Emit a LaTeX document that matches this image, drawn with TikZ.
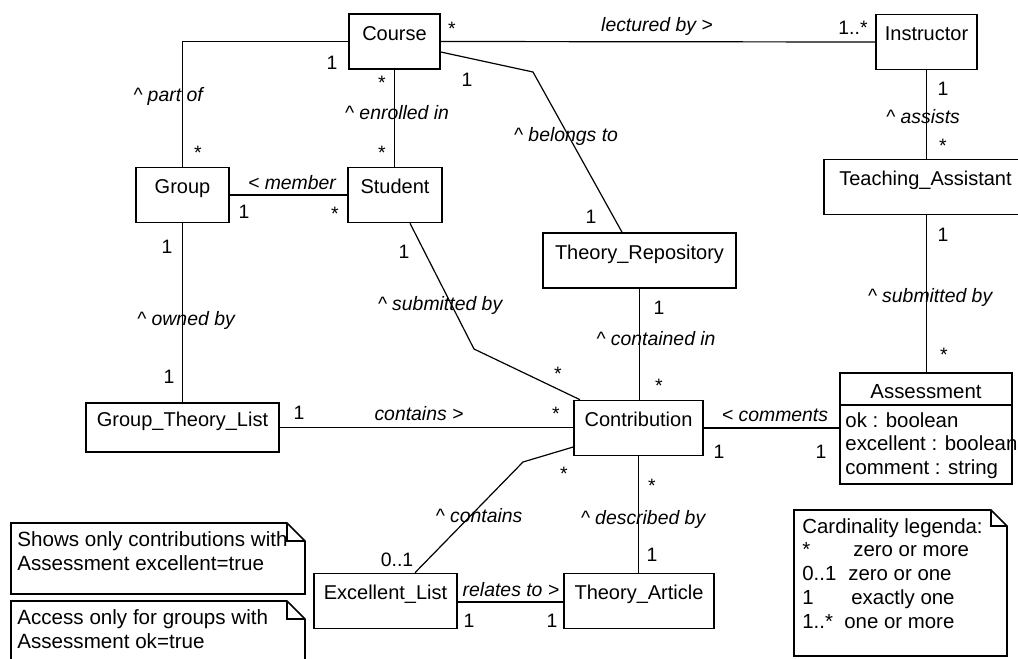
\documentclass[tikz,border=0pt]{standalone}
\usepackage{fontspec}
\setmainfont{Liberation Sans}
\tikzset{
  cls/.style={draw, line width=0.8pt, inner sep=0pt, text height=13pt, text depth=14.5pt, font=\fontsize{10}{12}\selectfont},
  assoc/.style={line width=0.6pt},
  role/.style={font=\fontsize{9.7}{12}\selectfont\itshape, inner sep=0pt},
  mult/.style={font=\fontsize{9.7}{12}\selectfont, inner sep=0pt},
  many/.style={mult, yshift=-2pt},
  notebox/.style={line width=0.8pt},
  notetext/.style={font=\fontsize{10.3}{12}\selectfont, align=left, inner sep=0pt, anchor=base west}
}
\begin{document}
\begin{tikzpicture}[x=0.5pt,y=-0.5pt]
  \clip (0,0) rectangle (1018,659);

  % classes
  \node[cls, minimum width=45.5pt] (course) at (394.5,41.5) {Course};
  \node[cls, minimum width=50.5pt] (instructor) at (926.5,42) {Instructor};
  \node[cls, minimum width=46.5pt] (group) at (182.5,195) {Group};
  \node[cls, minimum width=47pt] (student) at (395,195) {Student};
  \node[cls, minimum width=101.5pt] (ta) at (925.5,187) {Teaching\_Assistant};
  \node[cls, minimum width=96.5pt] (repo) at (639.5,260.5) {Theory\_Repository};
  \node[cls, minimum width=96.5pt, text height=11.5pt, text depth=13pt] (gtl) at (182.5,427.5) {Group\_Theory\_List};
  \node[cls, minimum width=64.5pt] (contrib) at (638.5,428) {Contribution};
  \node[cls, minimum width=71.5pt] (exlist) at (385.5,601) {Excellent\_List};
  \node[cls, minimum width=75pt] (article) at (639,601) {Theory\_Article};

  % Assessment with attributes
  \node[draw, line width=0.8pt, minimum width=86pt, minimum height=55.5pt, inner sep=0pt] (assess) at (926,428.5) {};
  \draw[line width=0.8pt] (assess.west |- 0,405) -- (assess.east |- 0,405);
  \node[font=\fontsize{10.2}{12}\selectfont, inner sep=0pt, anchor=base] (assesstitle) at (926,398) {Assessment};
  \node[font=\fontsize{10.2}{11.75}\selectfont, align=left, inner sep=0pt, anchor=base west] (assessattr) at (845,474) {ok : boolean\\excellent : boolean\\comment : string};

  % associations
  \draw[assoc] (course.west) -| (group.north);
  \draw[assoc] (course.south) -- (course.south |- student.north);
  \draw[assoc] (course.east) -- (instructor.west);
  \draw[assoc] (course.east |- 0,52) -- (533,72) -- (622,0 |- repo.north);
  \draw[assoc] (group.east) -- (student.west);
  \draw[assoc] (group.south) -- (gtl.north);
  \draw[assoc] (410,0 |- student.south) -- (474,349) -- (580,0 |- contrib.north);
  \draw[assoc] (repo.south) -- (repo.south |- contrib.north);
  \draw[assoc] (gtl.east) -- (gtl.east -| contrib.west);
  \draw[assoc] (contrib.east) -- (contrib.east -| assess.west);
  \draw[assoc] (contrib.west |- 0,447) -- (523,462) -- (415,0 |- exlist.north);
  \draw[assoc] (exlist.east |- 0,602) -- (article.west |- 0,602);
  \draw[assoc] (contrib.south) -- (contrib.south |- article.north);
  \draw[assoc] (instructor.south) -- (instructor.south |- ta.north);
  \draw[assoc] (instructor.south |- ta.south) -- (instructor.south |- assess.north);

  % role names
  \node[role] (partof) at (168,96) {\textasciicircum{} part of};
  \node[role] (enrolled) at (397,113) {\textasciicircum{} enrolled in};
  \node[role] (lectured) at (657,26) {lectured by >};
  \node[role] (belongs) at (566,136) {\textasciicircum{} belongs to};
  \node[role] (member) at (292,183) {< member};
  \node[role] (owned) at (186,320) {\textasciicircum{} owned by};
  \node[role] (subst) at (440,305) {\textasciicircum{} submitted by};
  \node[role] (contained) at (656,339) {\textasciicircum{} contained in};
  \node[role] (containsgtl) at (419,414) {contains >};
  \node[role] (comments) at (775,415) {< comments};
  \node[role] (containsex) at (479,516) {\textasciicircum{} contains};
  \node[role] (relates) at (511,590) {relates to >};
  \node[role] (described) at (643,519) {\textasciicircum{} described by};
  \node[role] (assists) at (923,117) {\textasciicircum{} assists};
  \node[role] (subta) at (930,297) {\textasciicircum{} submitted by};

  % multiplicities
  \node[mult] (m1) at (332,63) {1};
  \node[many] (m2) at (198,149) {*};
  \node[many] (m3) at (382,79) {*};
  \node[many] (m4) at (382,149) {*};
  \node[many] (m5) at (452,25) {*};
  \node[mult] (m6) at (853,28) {1..*};
  \node[mult] (m7) at (467,80) {1};
  \node[mult] (m8) at (591,217) {1};
  \node[mult] (m9) at (244,212) {1};
  \node[many] (m10) at (335,210) {*};
  \node[mult] (m11) at (167,247) {1};
  \node[mult] (m12) at (169,377) {1};
  \node[mult] (m13) at (404,252) {1};
  \node[many] (m14) at (558,370) {*};
  \node[mult] (m15) at (659,308) {1};
  \node[many] (m16) at (659,382) {*};
  \node[mult] (m17) at (299,413) {1};
  \node[many] (m18) at (556,410) {*};
  \node[mult] (m19) at (719,452) {1};
  \node[mult] (m20) at (821,452) {1};
  \node[many] (m21) at (564,470) {*};
  \node[mult] (m22) at (397,560) {0..1};
  \node[mult] (m23) at (469,621) {1};
  \node[mult] (m24) at (552,621) {1};
  \node[many] (m25) at (652,482) {*};
  \node[mult] (m26) at (652,555) {1};
  \node[mult] (m27) at (943,89) {1};
  \node[many] (m28) at (943,142) {*};
  \node[mult] (m29) at (943,235) {1};
  \node[many] (m30) at (944,351) {*};

  % notes
  \draw[notebox] (11,523) -- (287,523) -- (305,541) -- (305,594) -- (11,594) -- cycle;
  \draw[notebox] (287,523) |- (305,541);
  \node[notetext] (note1) at (17,570) {Shows only contributions with\\Assessment excellent=true};
  \draw[notebox] (11,662) -- (11,601) -- (287,601) -- (305,619) -- (305,662);
  \draw[notebox] (287,601) |- (305,619);
  \node[notetext] (note2) at (17,648) {Access only for groups with\\Assessment ok=true};
  \draw[notebox] (794,510) -- (991,510) -- (1007,526) -- (1007,656) -- (794,656) -- cycle;
  \draw[notebox] (991,510) |- (1007,526);
  \node[notetext, font=\fontsize{10.2}{11.85}\selectfont] (legend) at (802,628)
    {Cardinality legenda:\\\makebox[25.5pt][l]{*}zero or more\\\makebox[23pt][l]{0..1}zero or one\\\makebox[24.5pt][l]{1}exactly one\\\makebox[21pt][l]{1..*}one or more};
\end{tikzpicture}
\end{document}
